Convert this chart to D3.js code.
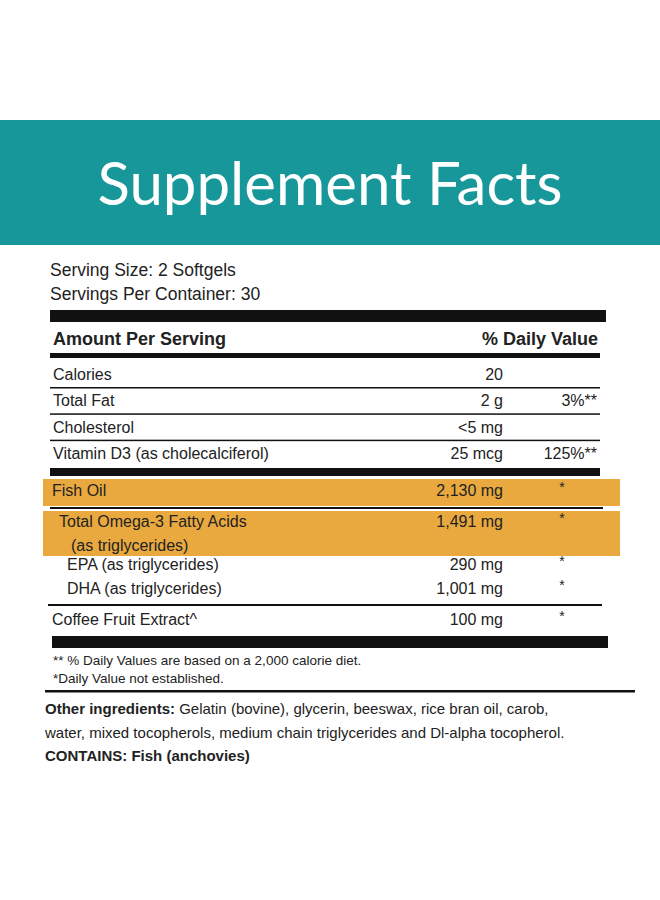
<!DOCTYPE html>
<html><head><meta charset="utf-8">
<script src="https://cdn.jsdelivr.net/npm/d3@7"></script>
<style>body{margin:0;background:#fff}text{font-family:"Liberation Sans",Arial,sans-serif}</style>
</head><body><svg id="chart" width="660" height="900"></svg>
<script>
// label data
const title = "Supplement Facts";
const serving = ["Serving Size: 2 Softgels", "Servings Per Container: 30"];
const basicNames = ["Calories", "Total Fat", "Cholesterol", "Vitamin D3 (as cholecalciferol)"];
const basicAmounts = ["20", "2 g", "<5 mg", "25 mcg"];
const basicDV = ["", "3%**", "", "125%**"];
const oilNames = ["Fish Oil", "Total Omega-3 Fatty Acids", "EPA (as triglycerides)", "DHA (as triglycerides)", "Coffee Fruit Extract^"];
const oilAmounts = ["2,130 mg", "1,491 mg", "290 mg", "1,001 mg", "100 mg"];
const oilDV = ["*", "*", "*", "*", "*"];
const footnotes = ["** % Daily Values are based on a 2,000 calorie diet.", "*Daily Value not established."];

const svg = d3.select("#chart");
const teal = "#17979a", orange = "#e9a93f";

svg.append("rect").attr("x", 0).attr("y", 120).attr("width", 660).attr("height", 125).attr("fill", teal);
svg.append("text").attr("x", 330).attr("y", 205).attr("text-anchor", "middle")
  .style("font-family", "Lato").attr("font-size", 60).attr("fill", "#fff").text(title);

svg.selectAll(".serv").data(serving).join("text")
  .attr("x", 50).attr("y", (d, i) => 276 + i * 24).attr("font-size", 17.5).attr("fill", "#222").text(d => d);

function bar(x1, x2, y, h) {
  svg.append("rect").attr("x", x1).attr("y", y).attr("width", x2 - x1).attr("height", h).attr("fill", "#111");
}
bar(50, 606, 310, 12);
svg.append("text").attr("x", 53).attr("y", 345).attr("font-size", 18).attr("font-weight", "bold").attr("fill", "#222").text("Amount Per Serving");
svg.append("text").attr("x", 598).attr("y", 345).attr("text-anchor", "end").attr("font-size", 18).attr("font-weight", "bold").attr("fill", "#222").text("% Daily Value");
bar(50, 600, 353, 5);

const amtX = 503, dvX = 597, starX = 562;
const yBasic = d3.scalePoint().domain(d3.range(basicNames.length)).range([380, 459]);
basicNames.forEach((n, i) => {
  const y = yBasic(i);
  svg.append("text").attr("x", 53).attr("y", y).attr("font-size", 16).attr("fill", "#222").text(n);
  svg.append("text").attr("x", amtX).attr("y", y).attr("text-anchor", "end").attr("font-size", 16).attr("fill", "#222").text(basicAmounts[i]);
  svg.append("text").attr("x", dvX).attr("y", y).attr("text-anchor", "end").attr("font-size", 16).attr("fill", "#222").text(basicDV[i]);
  if (i < basicNames.length - 1) bar(50, 600, y + 7, 1.5);
});
bar(50, 600, 468, 8);

// highlighted rows
svg.append("rect").attr("x", 43).attr("y", 479).attr("width", 577).attr("height", 27).attr("fill", orange);
bar(50, 603, 507, 2);
svg.append("rect").attr("x", 43).attr("y", 511).attr("width", 577).attr("height", 45).attr("fill", orange);

const oilY = [496, 527, 570, 594, 625];
const oilX = [52, 59, 67, 67, 52];
oilNames.forEach((n, i) => {
  const y = oilY[i];
  svg.append("text").attr("x", oilX[i]).attr("y", y).attr("font-size", 16).attr("fill", "#222").text(n);
  svg.append("text").attr("x", amtX).attr("y", y).attr("text-anchor", "end").attr("font-size", 16).attr("fill", "#222").text(oilAmounts[i]);
  svg.append("text").attr("x", starX).attr("y", y - 4).attr("text-anchor", "middle").attr("font-size", 14).attr("fill", "#222").text(oilDV[i]);
});
svg.append("text").attr("x", 71).attr("y", 551).attr("font-size", 16).attr("fill", "#222").text("(as triglycerides)");
bar(48, 602, 604, 2);
bar(52, 608, 636, 12);

svg.selectAll(".foot").data(footnotes).join("text")
  .attr("x", 53).attr("y", (d, i) => 665 + i * 18).attr("font-size", 13.5).attr("fill", "#222").text(d => d);
bar(45, 635, 690, 2.5);

const oth = svg.append("text").attr("x", 45).attr("y", 714).attr("font-size", 15).attr("fill", "#222");
oth.append("tspan").attr("font-weight", "bold").text("Other ingredients: ");
oth.append("tspan").text("Gelatin (bovine), glycerin, beeswax, rice bran oil, carob,");
svg.append("text").attr("x", 45).attr("y", 738).attr("font-size", 15).attr("fill", "#222")
  .text("water, mixed tocopherols, medium chain triglycerides and Dl-alpha tocopherol.");
svg.append("text").attr("x", 45).attr("y", 761).attr("font-size", 15).attr("font-weight", "bold").attr("fill", "#222").text("CONTAINS: Fish (anchovies)");
</script></body></html>
